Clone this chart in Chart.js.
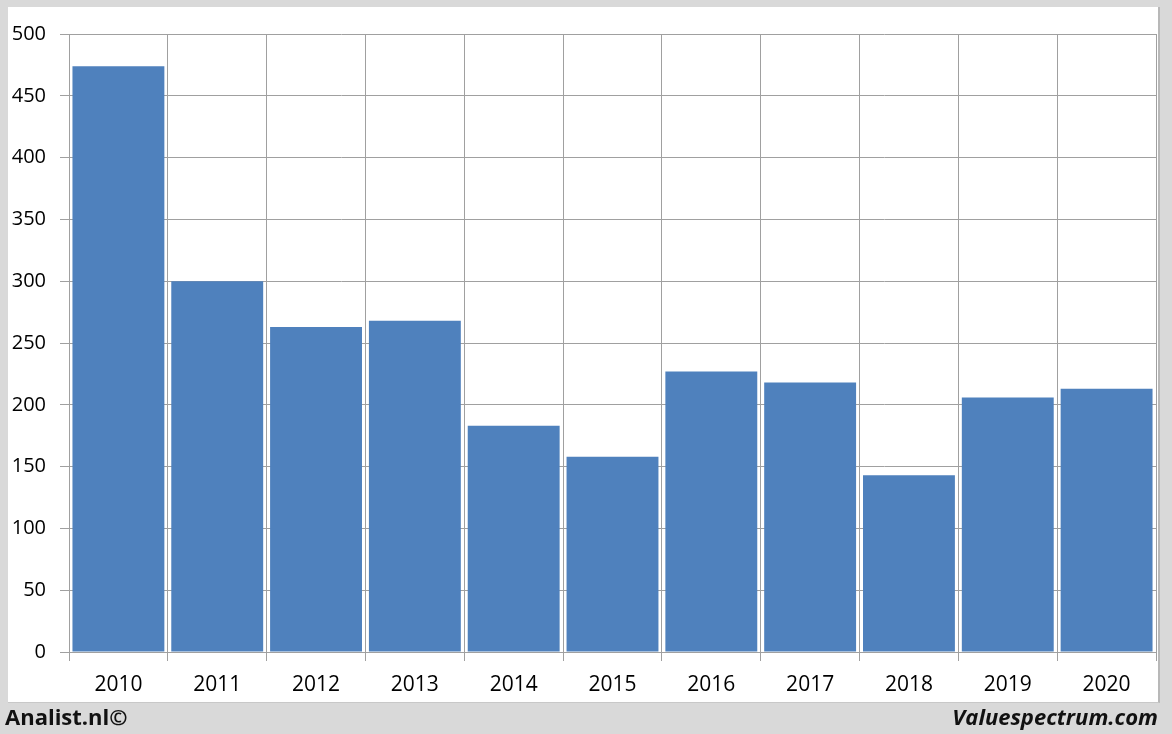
<!DOCTYPE html>
<html>
<head>
<meta charset="utf-8">
<script src="https://cdn.jsdelivr.net/npm/chart.js@4.4.1/dist/chart.umd.min.js"></script>
<style>
  html, body { margin: 0; padding: 0; }
  body { width: 1172px; height: 734px; background: #d9d9d9; position: relative; overflow: hidden; font-family: "Open Sans", "Liberation Sans", sans-serif; }
  #panel { position: absolute; left: 8px; top: 7px; width: 1150px; height: 695px; background: #ffffff; border-right: 2px solid #b8b8b8; border-bottom: 1px solid #c8c8c8; }
  #wrap { position: absolute; left: 0; top: 0; width: 1172px; height: 734px; }
  .foot { position: absolute; font-weight: bold; font-size: 22px; color: #111; top: 701px; }
  #left { left: 5px; }
  #right { right: 14px; font-style: italic; }
</style>
</head>
<body>
<div id="panel"></div>
<div id="wrap"><canvas id="c" width="1172" height="734"></canvas></div>
<div class="foot" id="left">Analist.nl©</div>
<div class="foot" id="right">Valuespectrum.com</div>
<script>
const categories = ["2010","2011","2012","2013","2014","2015","2016","2017","2018","2019","2020"];
const values = [474, 300, 263, 268, 183, 158, 227, 218, 143, 206, 213];
const yMin = 0, yMax = 500, yStep = 50;

const gridColor = "#a0a0a0";
new Chart(document.getElementById("c"), {
  type: "bar",
  data: {
    labels: categories,
    datasets: [{
      data: values,
      backgroundColor: "#4f81bd",
      borderWidth: 0,
      barPercentage: 0.93,
      categoryPercentage: 1.0
    }]
  },
  options: {
    responsive: false,
    animation: false,
    devicePixelRatio: 1,
    layout: { padding: { left: 0, right: 16, top: 34, bottom: 0 } },
    plugins: { legend: { display: false }, tooltip: { enabled: false } },
    scales: {
      x: {
        offset: true,
        grid: { display: true, offset: true, color: gridColor, lineWidth: 1, drawTicks: true, tickLength: 9 },
        border: { display: true, color: gridColor },
        ticks: { color: "#000", font: { family: "Open Sans", size: 21 }, padding: 11, maxRotation: 0 },
        afterFit: s => { s.height = 82; }
      },
      y: {
        min: yMin, max: yMax,
        grid: { color: gridColor, lineWidth: 1, tickLength: 9 },
        border: { display: true, color: gridColor },
        ticks: { stepSize: yStep, color: "#000", font: { family: "Open Sans", size: 20 }, padding: 14 },
        afterFit: s => { s.width = 69; }
      }
    }
  }
});
</script>
</body>
</html>
